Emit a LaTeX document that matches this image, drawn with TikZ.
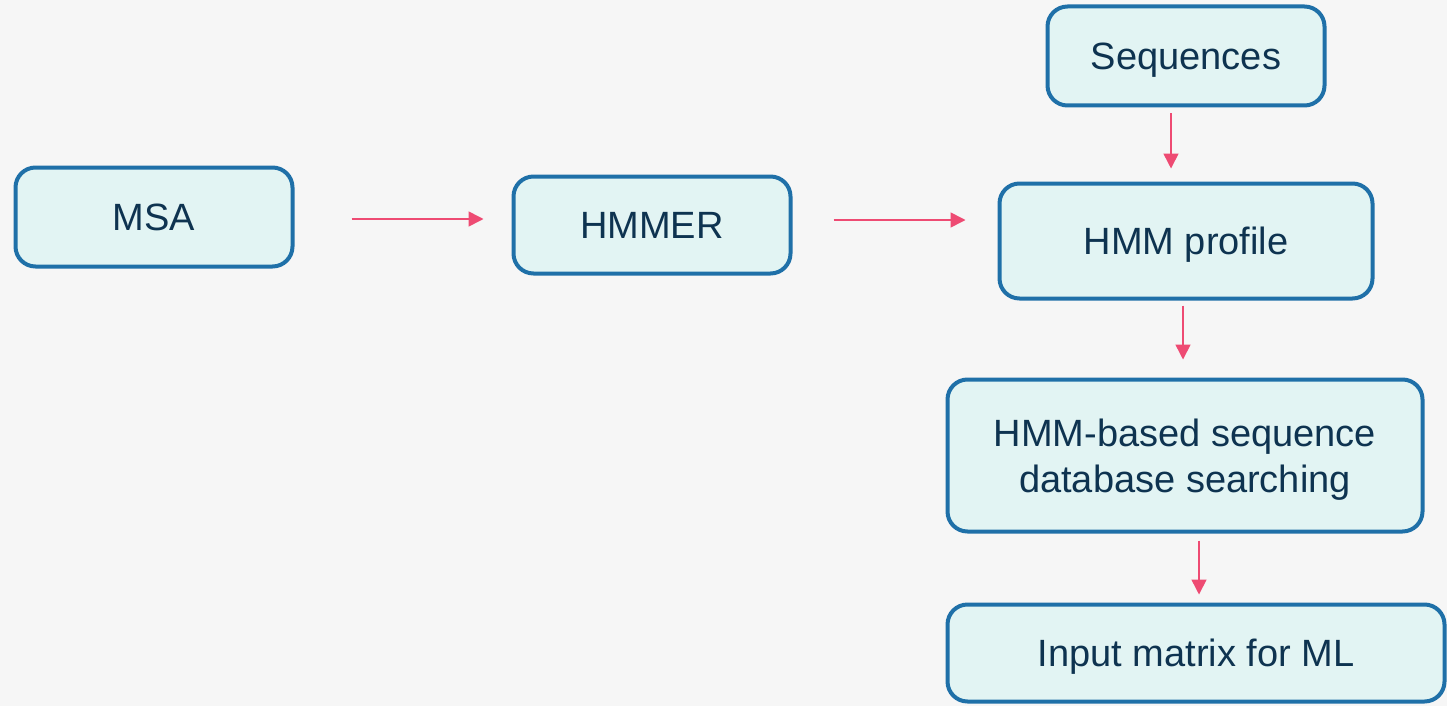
\documentclass[tikz,border=0pt]{standalone}
\usepackage{fontspec}
\setmainfont{Liberation Sans}
\usetikzlibrary{arrows.meta}
\definecolor{bg}{HTML}{F6F6F6}
\definecolor{boxfill}{HTML}{E2F4F3}
\definecolor{boxline}{HTML}{1F70A8}
\definecolor{txt}{HTML}{0E3350}
\definecolor{arrowc}{HTML}{EE4B73}
\tikzset{
  box/.style={draw=boxline, fill=boxfill, line width=4pt, rounded corners=20pt,
    rectangle, inner sep=0pt, align=center, text=txt, text depth=0pt,
    font=\fontsize{38}{46}\selectfont},
  onel/.style={text height=27pt},
  arr/.style={draw=arrowc, line width=1.6pt, -{Triangle[length=15pt,width=15pt]}}
}
\begin{document}
\begin{tikzpicture}[x=1pt,y=-1pt]
\fill[bg] (0,0) rectangle (1447,706);
\useasboundingbox (0,0) rectangle (1447,706);
\node[box, onel, minimum width=277pt, minimum height=99pt] (msa) at (154,217) {MSA};
\node[box, onel, minimum width=277pt, minimum height=97pt] (hmmer) at (652,225) {HMMER};
\node[box, onel, minimum width=277pt, minimum height=99pt] (seq) at (1186,56) {Sequences};
\node[box, onel, minimum width=373pt, minimum height=115pt] (profile) at (1186,241) {HMM profile};
\node[box, minimum width=475pt, minimum height=152pt] (search) at (1185,455.5) {HMM-based sequence\\database searching};
\node[box, onel, minimum width=497pt, minimum height=97pt] (input) at (1196,653) {Input matrix for ML};
\draw[arr, shorten <=57pt, shorten >=28pt] ([yshift=-2pt]msa.east) -- ([yshift=-2pt]msa.east -| hmmer.west);
\draw[arr, shorten <=41pt, shorten >=32pt] ([yshift=5pt]hmmer.east) -- ([yshift=5pt]hmmer.east -| profile.west);
\draw[arr, shorten <=6pt, shorten >=13pt] ([xshift=-15pt]seq.south) -- ([xshift=-15pt]seq.south |- profile.north);
\draw[arr, shorten <=5pt, shorten >=18pt] ([xshift=-3pt]profile.south) -- ([xshift=-3pt]profile.south |- search.north);
\draw[arr, shorten <=7pt, shorten >=8pt] ([xshift=14pt]search.south) -- ([xshift=14pt]search.south |- input.north);
\end{tikzpicture}
\end{document}
